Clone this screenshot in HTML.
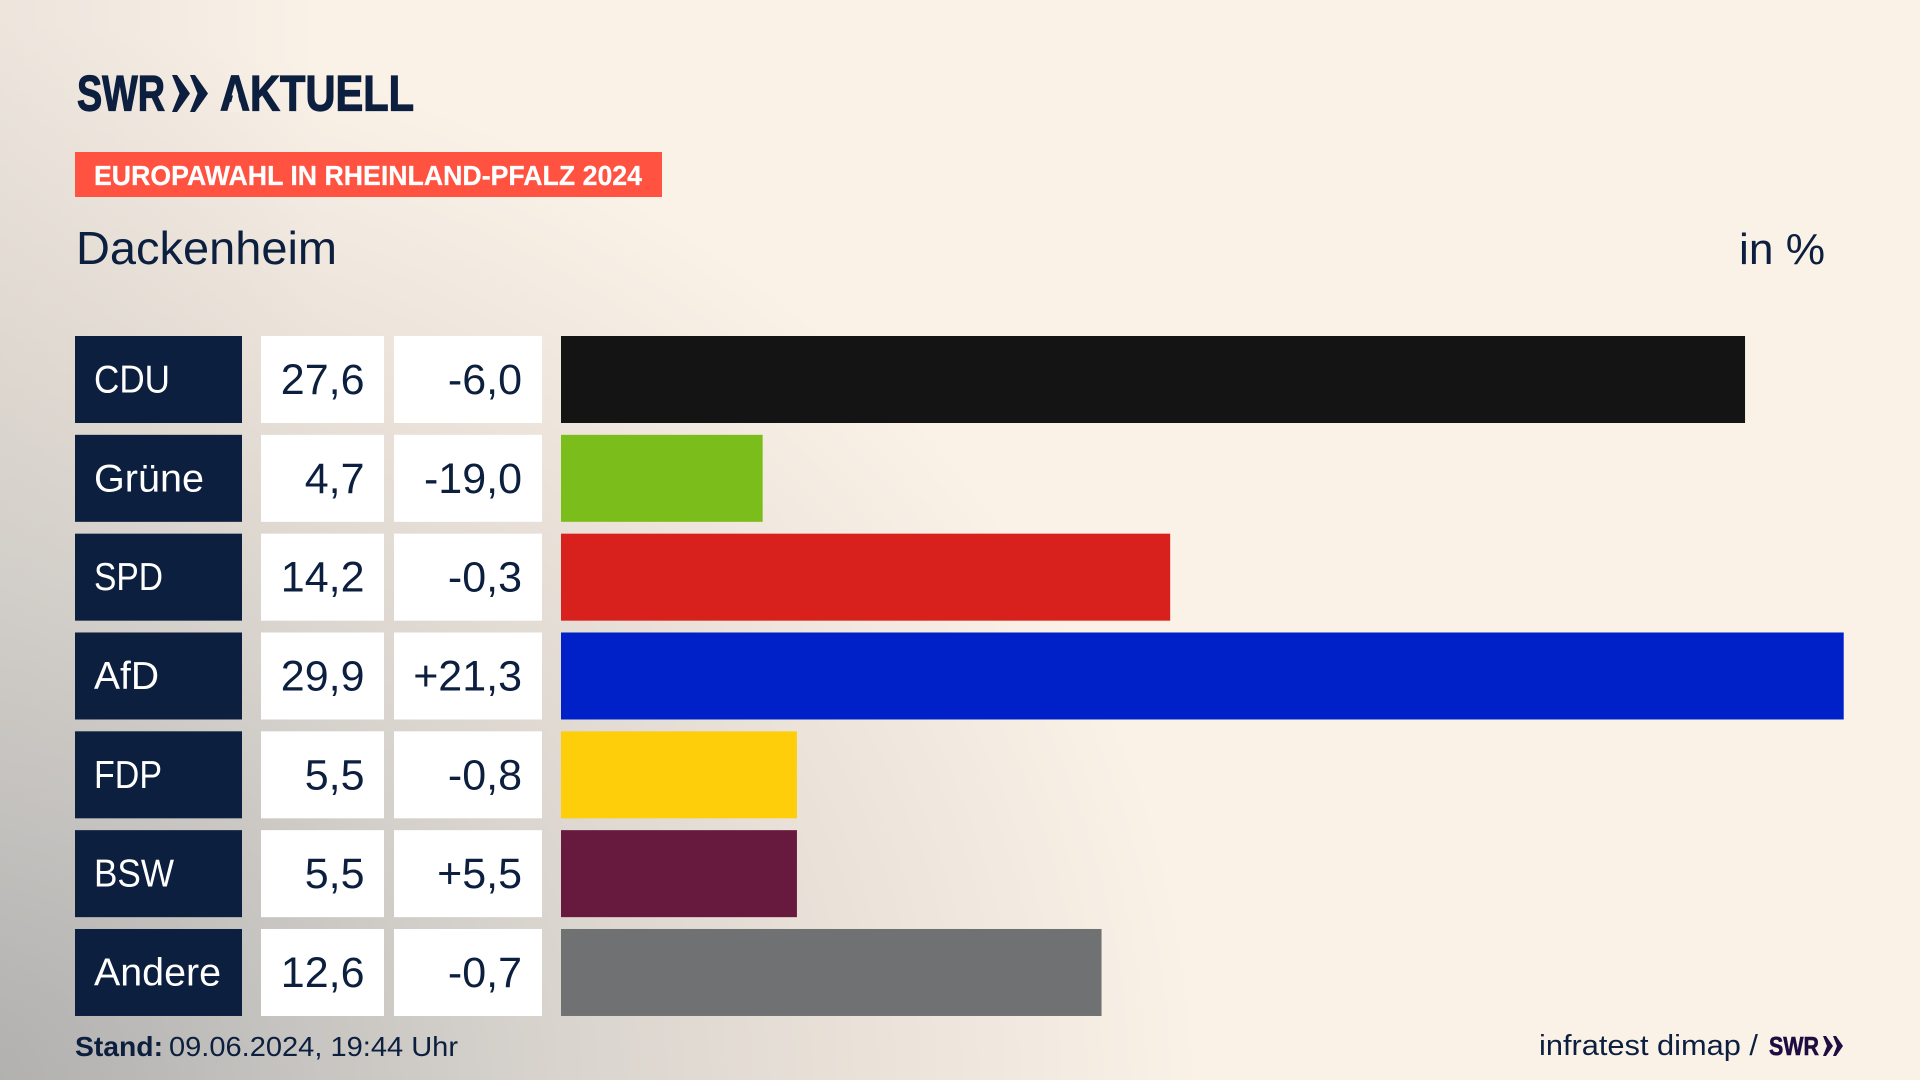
<!DOCTYPE html>
<html lang="de">
<head>
<meta charset="utf-8">
<title>Europawahl in Rheinland-Pfalz 2024 – Dackenheim</title>
<style>
html,body{margin:0;padding:0;width:1920px;height:1080px;overflow:hidden;background:#faf1e7;}
#stage{position:absolute;left:0;top:0;width:1920px;height:1080px;
background:
linear-gradient(to right,rgba(190,188,185,.22) 0,rgba(190,188,185,0) 320px),
radial-gradient(ellipse 1260px 1080px at -60px 1100px,#a9a9a8 0%,#c4c2bf 26%,#d9d4ce 50%,#e9e1d8 72%,rgba(250,241,231,0) 100%),
#faf1e7;}
svg{position:absolute;left:0;top:0;}
text{font-family:"Liberation Sans",sans-serif;fill:#0c1f3f;}
</style>
</head>
<body>
<div id="stage">
<svg id="chart" width="1920" height="1080" viewBox="0 0 1920 1080">
  <g>
    <text x="77" y="110.5" font-size="50" font-weight="700" stroke="#0c1f3f" stroke-width="1.2" textLength="88" lengthAdjust="spacingAndGlyphs">SWR</text>
    <polygon points="172,75 177,75 190,93.5 177,112 172,112 179.5,93.5" fill="#0c1f3f"/>
    <polygon points="190,75 195,75 208,93.5 195,112 190,112 197.5,93.5" fill="#0c1f3f"/>
    <text x="220" y="110.5" font-size="50" font-weight="700" stroke="#0c1f3f" stroke-width="1.2" textLength="194" lengthAdjust="spacingAndGlyphs">AKTUELL</text>
    <polygon points="235.5,85 229,111.5 242,111.5" fill="#f6eee4"/>
  </g>
  <rect x="75" y="152" width="587" height="45" fill="#ff5240"/>
  <text x="94" y="185" font-size="28" font-weight="700" stroke="#fff" stroke-width="0.25" style="fill:#fff" textLength="548" lengthAdjust="spacingAndGlyphs">EUROPAWAHL IN RHEINLAND-PFALZ 2024</text>
  <text x="76" y="264" font-size="46" textLength="261" lengthAdjust="spacingAndGlyphs">Dackenheim</text>
  <text x="1739" y="264" font-size="44" textLength="86" lengthAdjust="spacingAndGlyphs">in %</text>
  <g id="rows"></g>
  <text x="75" y="1056" font-size="28" font-weight="700" textLength="88" lengthAdjust="spacingAndGlyphs">Stand:</text>
  <text x="169" y="1056" font-size="28" textLength="289" lengthAdjust="spacingAndGlyphs">09.06.2024, 19:44 Uhr</text>
  <text x="1539" y="1055" font-size="29" textLength="219" lengthAdjust="spacingAndGlyphs">infratest dimap /</text>
  <g>
    <text x="1769" y="1055" font-size="26" font-weight="700" stroke="#1f0c40" stroke-width="0.6" style="fill:#1f0c40" textLength="50" lengthAdjust="spacingAndGlyphs">SWR</text>
    <polygon points="1823,1036 1826,1036 1833,1046 1826,1056 1823,1056 1827,1046" fill="#1f0c40"/>
    <polygon points="1833,1036 1836,1036 1843,1046 1836,1056 1833,1056 1837,1046" fill="#1f0c40"/>
  </g>
</svg>
</div>
<script>
var parties = ["CDU", "Grüne", "SPD", "AfD", "FDP", "BSW", "Andere"];
var shares = [27.6, 4.7, 14.2, 29.9, 5.5, 5.5, 12.6];
var changes = [-6.0, -19.0, -0.3, 21.3, -0.8, 5.5, -0.7];
var partyColors = ["#141414", "#7bbd1a", "#d8201c", "#0020c8", "#ffce0a", "#671a3e", "#707173"];

var NS = "http://www.w3.org/2000/svg";
var BAR_LEFT = 561, PX_PER_POINT = 42.9, ROW_TOP = 336, ROW_PITCH = 98.83, ROW_H = 87;
var labelFit = { "CDU": 76, "Grüne": 110, "SPD": 69, "AfD": 65, "FDP": 68, "BSW": 80, "Andere": 127 };
function xScale(v) { return BAR_LEFT + v * PX_PER_POINT; }
function rowY(i) { return ROW_TOP + i * ROW_PITCH; }
function fmtShare(v) { return v.toFixed(1).replace(".", ","); }
function fmtChange(v) { return (v > 0 ? "+" : "") + v.toFixed(1).replace(".", ","); }
function make(tag, attrs) {
  var el = document.createElementNS(NS, tag);
  for (var k in attrs) { el.setAttribute(k, attrs[k]); }
  return el;
}
var rowsGroup = document.getElementById("rows");
parties.forEach(function (party, i) {
  var y = rowY(i);
  var slug = party.toLowerCase().replace("ü", "ue");
  var g = make("g", {});
  
  

  var labelBox = make("rect", { x: 75, y: y, width: 167, height: ROW_H, fill: "#0c1f3f" });
  
  
  g.appendChild(labelBox);

  var label = make("text", { x: 94, y: y + 56.5, "font-size": 39, style: "fill:#fff", lengthAdjust: "spacingAndGlyphs" });
  if (labelFit[party]) { label.setAttribute("textLength", labelFit[party]); }
  label.textContent = party;
  
  
  g.appendChild(label);

  var shareBox = make("rect", { x: 261, y: y, width: 123, height: ROW_H, fill: "#fff" });
  
  
  g.appendChild(shareBox);

  var share = make("text", { x: 364.5, y: y + 58, "font-size": 43, "text-anchor": "end" });
  share.textContent = fmtShare(shares[i]);
  
  
  g.appendChild(share);

  var changeBox = make("rect", { x: 394, y: y, width: 148, height: ROW_H, fill: "#fff" });
  
  
  g.appendChild(changeBox);

  var change = make("text", { x: 522, y: y + 58, "font-size": 43, "text-anchor": "end" });
  change.textContent = fmtChange(changes[i]);
  
  
  g.appendChild(change);

  var bar = make("rect", { x: BAR_LEFT, y: y, width: xScale(shares[i]) - BAR_LEFT, height: ROW_H, fill: partyColors[i] });
  
  
  g.appendChild(bar);

  rowsGroup.appendChild(g);
});
</script>
</body>
</html>
